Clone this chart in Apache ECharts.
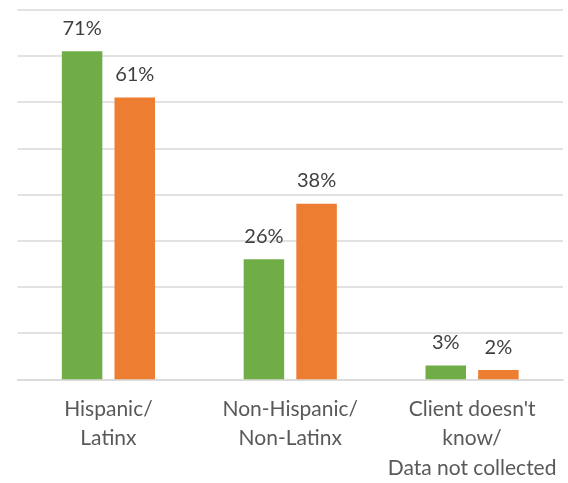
<!DOCTYPE html>
<html>
<head>
<meta charset="utf-8">
<script src="https://cdn.jsdelivr.net/npm/echarts@6/dist/echarts.min.js"></script>
<style>
  html, body { margin: 0; padding: 0; background: #fff; }
  #chart { width: 568px; height: 483px; }
</style>
</head>
<body>
<div id="chart"></div>
<script>
// Categories along the x axis
const categories = ['Hispanic/\nLatinx', 'Non-Hispanic/\nNon-Latinx', "Client doesn't\nknow/\nData not collected"];
// Percent values for the two series
const seriesGreen = [71, 26, 3];
const seriesOrange = [61, 38, 2];
// Y axis range (percent), gridlines every 10
const yMin = 0;
const yMax = 80;
const yStep = 10;

const chart = echarts.init(document.getElementById('chart'), null, { renderer: 'canvas' });

const FONT = 'Lato, "Open Sans", sans-serif';

function valueLabel() {
  return {
    show: true,
    position: 'top',
    distance: 11,
    formatter: p => p.value + '%',
    fontFamily: FONT,
    fontSize: 20,
    lineHeight: 24,
    color: '#404040'
  };
}

chart.setOption({
  animation: false,
  backgroundColor: '#ffffff',
  grid: { left: 17.5, right: 5, top: 9.7, bottom: 103.7, containLabel: false },
  xAxis: {
    type: 'category',
    data: categories,
    axisLine: { show: true, lineStyle: { color: '#D9D9D9', width: 1.5 } },
    axisTick: { show: false },
    axisLabel: {
      interval: 0,
      margin: 15,
      fontFamily: FONT,
      fontSize: 21,
      lineHeight: 29.5,
      color: '#595959',
      align: 'center'
    }
  },
  yAxis: {
    type: 'value',
    min: yMin,
    max: yMax,
    interval: yStep,
    axisLine: { show: false },
    axisTick: { show: false },
    axisLabel: { show: false },
    splitLine: { show: true, lineStyle: { color: '#D9D9D9', width: 1.5 } }
  },
  series: [
    {
      name: 'Series 1',
      type: 'bar',
      data: seriesGreen,
      barWidth: 40.5,
      barGap: '30%',
      itemStyle: { color: '#70AD47' },
      label: valueLabel()
    },
    {
      name: 'Series 2',
      type: 'bar',
      data: seriesOrange,
      barWidth: 40.5,
      itemStyle: { color: '#ED7D31' },
      label: valueLabel()
    }
  ]
});
</script>
</body>
</html>
